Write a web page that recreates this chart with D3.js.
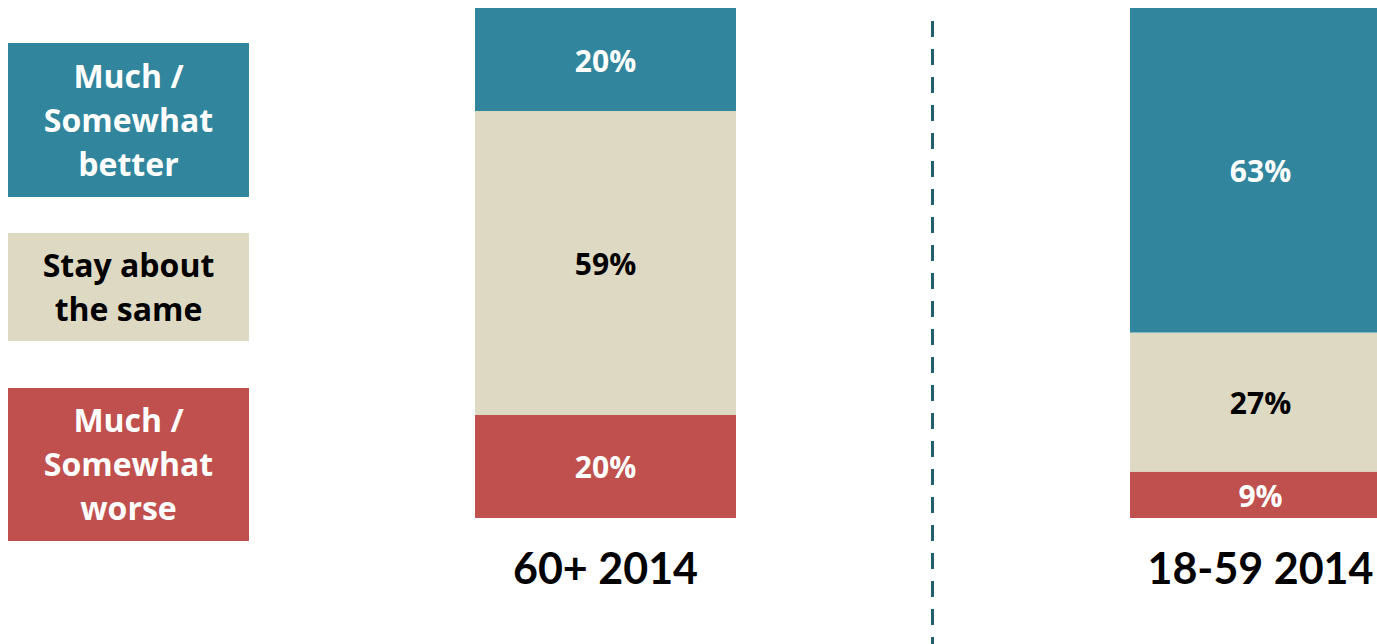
<!DOCTYPE html>
<html>
<head>
<meta charset="utf-8">
<script src="https://cdn.jsdelivr.net/npm/d3@7"></script>
<style>
  html, body { margin: 0; padding: 0; background: #fff; }
  svg { display: block; }
  text { font-family: "Open Sans", Lato, sans-serif; font-weight: 700; }
  text.cat { font-family: Lato, "Open Sans", sans-serif; }
</style>
</head>
<body>
<svg id="chart" width="1377" height="644"></svg>
<script>
const categories = ["60+ 2014", "18-59 2014"];
const seriesNames = ["Much / Somewhat worse", "Stay about the same", "Much / Somewhat better"];
const worse = [20, 9];
const same = [59, 27];
const better = [20, 63];
const legendLines = [
  ["Much /", "Somewhat", "better"],
  ["Stay about", "the same"],
  ["Much /", "Somewhat", "worse"]
];
const colors = { worse: "#C0504D", same: "#DDD9C3", better: "#31859C" };
const textColors = { worse: "#ffffff", same: "#000000", better: "#ffffff" };

const svg = d3.select("#chart");

const x = d3.scalePoint().domain(categories).range([605.5, 1260.5]);
const barW = 261;
const y = d3.scaleLinear().domain([0, 99]).range([518, 8]);

const rows = categories.map((c, i) => ({ cat: c, worse: worse[i], same: same[i], better: better[i] }));
const stack = d3.stack().keys(["worse", "same", "better"])(rows);

const layers = svg.selectAll("g.layer").data(stack).join("g").attr("class", "layer");
layers.selectAll("rect").data(d => d.map(v => ({ key: d.key, v }))).join("rect")
  .attr("x", d => x(d.v.data.cat) - barW / 2)
  .attr("width", barW)
  .attr("y", d => y(d.v[1]))
  .attr("height", d => y(d.v[0]) - y(d.v[1]))
  .attr("fill", d => colors[d.key]);

layers.selectAll("text").data(d => d.map(v => ({ key: d.key, v }))).join("text")
  .attr("x", d => x(d.v.data.cat))
  .attr("y", d => (y(d.v[0]) + y(d.v[1])) / 2)
  .attr("dy", "0.4em")
  .attr("text-anchor", "middle")
  .attr("font-size", 30)
  .attr("fill", d => textColors[d.key])
  .text(d => (d.v[1] - d.v[0]) + "%");

// category labels
svg.selectAll("text.cat").data(categories).join("text")
  .attr("class", "cat")
  .attr("x", d => x(d))
  .attr("y", 584)
  .attr("text-anchor", "middle")
  .attr("font-size", 43)
  .attr("fill", "#000")
  .text(d => d);

// divider
svg.append("line")
  .attr("x1", 932.5).attr("x2", 932.5)
  .attr("y1", 21).attr("y2", 644)
  .attr("stroke", "#215F6E")
  .attr("stroke-width", 3)
  .attr("stroke-dasharray", "16,12");

// legend
const legendBoxes = [
  { key: "better", y0: 43, y1: 197, lines: legendLines[0] },
  { key: "same", y0: 233, y1: 341, lines: legendLines[1] },
  { key: "worse", y0: 388, y1: 541, lines: legendLines[2] }
];
const lg = svg.selectAll("g.leg").data(legendBoxes).join("g").attr("class", "leg");
lg.append("rect")
  .attr("x", 8).attr("width", 241)
  .attr("y", d => d.y0).attr("height", d => d.y1 - d.y0)
  .attr("fill", d => colors[d.key]);
lg.each(function(d) {
  const g = d3.select(this);
  const lh = 44;
  const cy = (d.y0 + d.y1) / 2;
  const start = cy - (d.lines.length - 1) * lh / 2;
  d.lines.forEach((t, i) => {
    g.append("text")
      .attr("x", 128.5)
      .attr("y", start + i * lh)
      .attr("dy", "0.36em")
      .attr("text-anchor", "middle")
      .attr("font-size", 32)
      .attr("fill", textColors[d.key])
      .text(t);
  });
});
</script>
</body>
</html>
